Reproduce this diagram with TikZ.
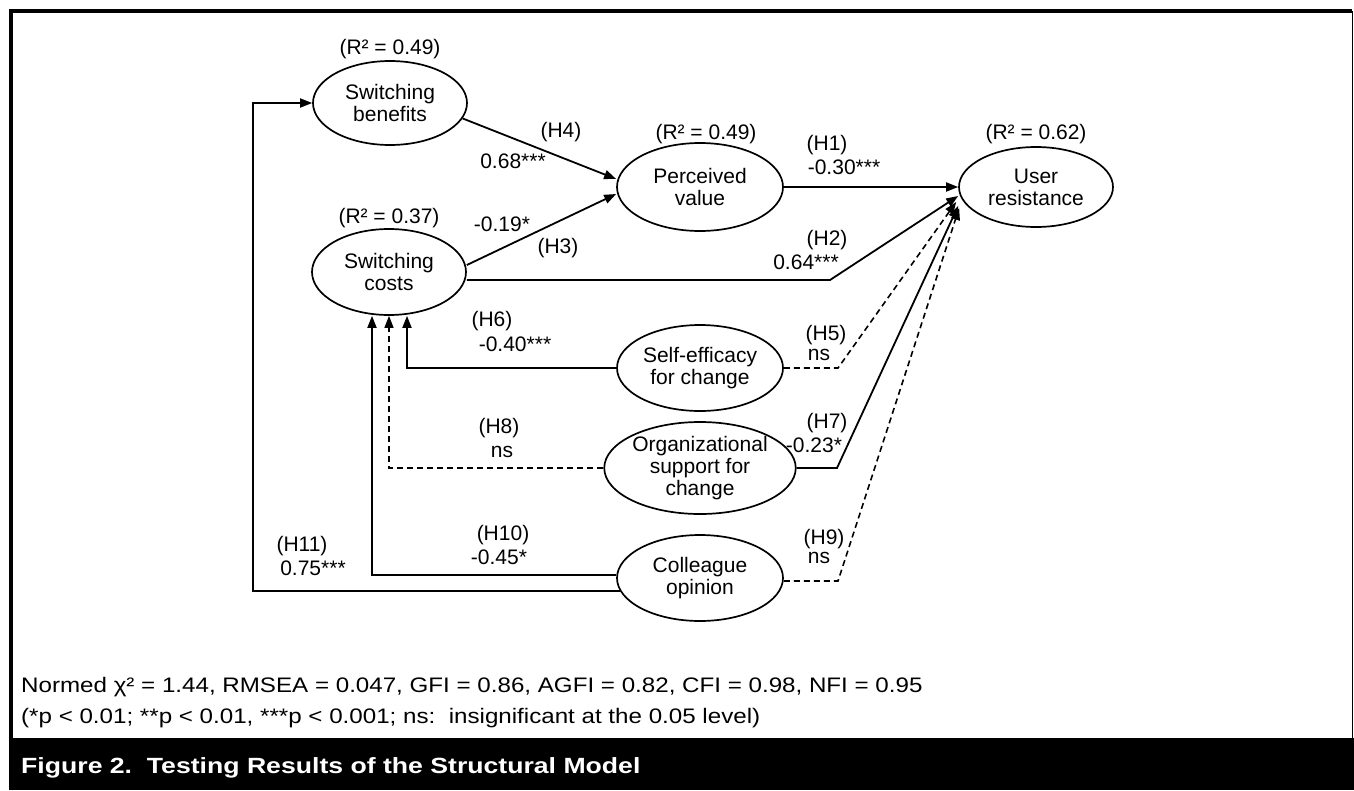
\documentclass[tikz,border=0pt]{standalone}
\usepackage{fontspec}
\setmainfont{Liberation Sans}
\usetikzlibrary{positioning}
\usetikzlibrary{shapes.geometric}
\usetikzlibrary{arrows.meta}
\tikzset{%
  sigarrow/.style = {-{Triangle[length=12pt,width=9pt]},solid,line width=1.8pt},
  nsarrow/.style = {-{Triangle[length=12pt,width=9pt]},dash pattern=on 6pt off 4pt,
        line width=1.6pt},
  lv/.style = {ellipse,draw,solid,line width=1.7pt,inner sep=0pt,align=center,
        minimum width=166pt,minimum height=88pt},
  rsq/.style = {inner sep=0pt},
  coef/.style = {inner sep=0pt},
  note/.style = {inner sep=0pt,anchor=base west,font=\fontsize{21}{23}\selectfont}
}

\begin{document}
\begin{tikzpicture}[x=1pt,y=-1pt]\fontsize{21}{22}\selectfont
                    % frame and caption bar
                    \path[fill=white] (0,0) rectangle (1354,790);
                    \draw[line width=3.5pt] (11,738) -- (11,11) -- (1352,11);
                    \draw[line width=1pt] (1352,11) -- (1352,738);
                    \fill[black] (9,738) rectangle (1354,790);

                    \node[lv,minimum width=154pt,minimum height=84pt] (sb) at (390,103) {Switching\\benefits};
                    \node[lv,minimum width=154pt,minimum height=86pt] (sc) at (389,272) {Switching\\costs};
                    \node[lv] (pv) at (700,187) {Perceived\\value};
                    \node[lv,minimum width=154pt,minimum height=80pt] (ur) at (1036,187) {User\\resistance};
                    \node[lv,minimum height=86pt] (se) at (700,368) {Self-efficacy\\for change};
                    \node[lv,minimum height=92pt] (os) at (700,468) {Organizational\\support for\\change};
                    \node[lv,minimum height=86pt] (co) at (700,578) {Colleague\\opinion};

                    \node[rsq] (sbr) [above=1pt of sb] {(R² = 0.49)};
                    \node[rsq] (scr) [above=0pt of sc] {(R² = 0.37)};
                    \node[rsq] (pvr) [above=-2pt of pv,xshift=6pt] {(R² = 0.49)};
                    \node[rsq] (urr) [above=2pt of ur] {(R² = 0.62)};

                    \coordinate (h2c) at (830,280);
                    \coordinate (h5c) at (838,368);
                    \coordinate (h7c) at (837,468);
                    \coordinate (h9c) at (838,581);
                    \coordinate (h11c) at (253,103);

                    \draw[sigarrow] (pv) -- (ur);
                    \draw[sigarrow] (sb.-12) -- ([yshift=8pt]pv.west);
                    \draw[sigarrow] ([yshift=7pt]sc.east) -- ([yshift=-7pt]pv.west);
                    \draw[sigarrow] ([yshift=-8pt]sc.east) -- (h2c) -- ([yshift=-9pt]ur.west);
                    \draw[sigarrow] (se.west) -| ([xshift=18pt]sc.south);
                    \draw[sigarrow] ([yshift=3pt]co.west) -| ([xshift=-17pt]sc.south);
                    \draw[sigarrow] (co.189) -| (h11c) -- (sb.west);
                    \draw[sigarrow] (os.east) -- (h7c) -- ([shift={(0pt,-19pt)}]ur.west);

                    \draw[nsarrow] (os.west) -| (sc.south);
                    \draw[nsarrow] (se.east) -- (h5c) -- ([shift={(-2pt,-15pt)}]ur.west);
                    \draw[nsarrow] ([yshift=-3pt]co.east) -- (h9c) -- ([shift={(1pt,-21pt)}]ur.west);

                    \node[coef] (h1l) at (827,145) {(H1)};
                    \node[coef] (h1v) at (844,167) {-0.30***};
                    \node[coef] (h2l) at (827,240) {(H2)};
                    \node[coef] (h2v) at (806,262) {0.64***};
                    \node[coef] (h3v) at (502,224) {-0.19*};
                    \node[coef] (h3l) at (558,248) {(H3)};
                    \node[coef] (h4l) at (561,132) {(H4)};
                    \node[coef] (h4v) at (513,161) {0.68***};
                    \node[coef] (h5l) at (826,335) {(H5)};
                    \node[coef] (h5v) at (819,355) {ns};
                    \node[coef] (h6l) at (492,321) {(H6)};
                    \node[coef] (h6v) at (515,344) {-0.40***};
                    \node[coef] (h7l) at (827,423) {(H7)};
                    \node[coef] (h7v) at (814,445) {-0.23*};
                    \node[coef] (h8l) at (499,428) {(H8)};
                    \node[coef] (h8v) at (502,452) {ns};
                    \node[coef] (h9l) at (824,539) {(H9)};
                    \node[coef] (h9v) at (819,558) {ns};
                    \node[coef] (h10l) at (503,535) {(H10)};
                    \node[coef] (h10v) at (499,557) {-0.45*};
                    \node[coef] (h11l) at (302,546) {(H11)};
                    \node[coef] (h11v) at (313,568) {0.75***};

                    \node[note] (fit) at (21,692) {\scalebox{1.15}[1]{Normed χ² = 1.44, RMSEA = 0.047, GFI = 0.86, AGFI = 0.82, CFI = 0.98, NFI = 0.95}};
                    \node[note] (sig) at (21,723) {\scalebox{1.15}[1]{(*p < 0.01; **p < 0.01, ***p < 0.001; ns:\ \ insignificant at the 0.05 level)}};
                    \node[note,text=white,font=\fontsize{22}{24}\selectfont\bfseries] (cap) at (21,773) {\scalebox{1.21}[1]{Figure 2.\ \ Testing Results of the Structural Model}};
                 \end{tikzpicture}
\end{document}
